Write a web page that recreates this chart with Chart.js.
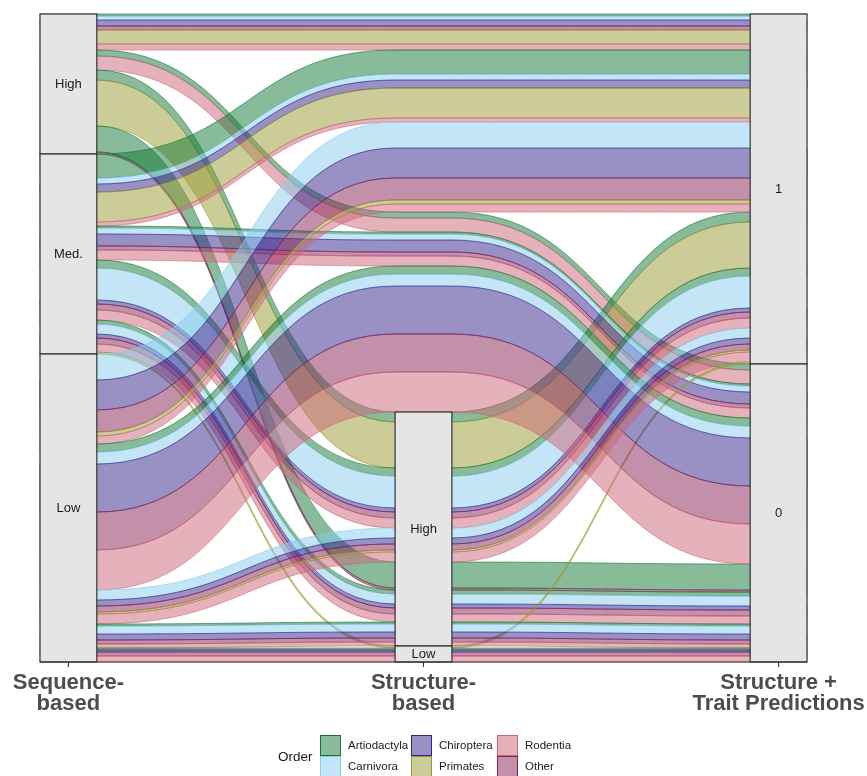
<!DOCTYPE html>
<html>
<head>
<meta charset="utf-8">
<script src="https://cdn.jsdelivr.net/npm/chart.js@4.4.0/dist/chart.umd.min.js"></script>
<style>
  html, body { margin: 0; padding: 0; background: #fff; }
</style>
</head>
<body>
<canvas id="alluvial" width="867" height="776"></canvas>
<script>
const orders = ['Artiodactyla', 'Carnivora', 'Chiroptera', 'Primates', 'Rodentia', 'Other'];
const orderColors = ['#117733', '#88CCEE', '#332288', '#999933', '#CC6677', '#882255'];
const axisLabels = [['Sequence-', 'based'], ['Structure-', 'based'], ['Structure +', 'Trait Predictions']];
const seqLevels = ['High', 'Med.', 'Low'];
const structLevels = ['NA', 'High', 'Low'];
const traitLevels = ['1', '0'];

// one entry per combination of strata (sequence, structure, trait)
const comboSeq    = ['High', 'High', 'High', 'High', 'Med.', 'Med.', 'Med.', 'Med.', 'Med.', 'Low', 'Low', 'Low', 'Low', 'Low'];
const comboStruct = ['NA', 'NA', 'High', 'High', 'NA', 'NA', 'High', 'High', 'Low', 'NA', 'NA', 'High', 'High', 'Low'];
const comboTrait  = ['1', '0', '1', '0', '1', '0', '1', '0', '1', '1', '0', '1', '0', '0'];

// counts of each order for every combination above
const artiodactyla = [1, 3, 5, 13, 12, 1, 4, 2, 0, 0, 4, 0, 1, 1];
const carnivora    = [2, 0, 0, 0, 3, 3, 16, 5, 0, 13, 6, 5, 4, 0];
const chiroptera   = [3, 0, 0, 0, 4, 6, 2, 2, 0, 15, 24, 3, 3, 1];
const primates     = [7, 0, 23, 0, 15, 0, 0, 0, 1, 2, 0, 1, 0, 0];
const rodentia     = [3, 7, 0, 0, 2, 5, 5, 4, 0, 4, 20, 5, 2, 3];
const other        = [2, 0, 0, 1, 0, 2, 3, 3, 0, 11, 19, 3, 2, 2];
const countsByOrder = [artiodactyla, carnivora, chiroptera, primates, rodentia, other];

const STRATUM_W = 0.16;
const axisLevels = [seqLevels, structLevels, traitLevels];
const guidance = [[0, 1, 2], [1, 2, 0], [2, 1, 0]]; // zigzag lode guidance
const stackNames = [...orders].sort();

function rgba(hex, a) {
    const v = parseInt(hex.slice(1), 16);
    return `rgba(${(v >> 16) & 255},${(v >> 8) & 255},${v & 255},${a})`;
}

function buildAlluvia() {
    const list = [];
    comboSeq.forEach((s, c) => {
        stackNames.forEach(name => {
            const k = orders.indexOf(name);
            const n = countsByOrder[k][c];
            if (!n) return;
            list.push({
                order: k,
                rank: stackNames.indexOf(name),
                lv: [seqLevels.indexOf(s), structLevels.indexOf(comboStruct[c]), traitLevels.indexOf(comboTrait[c])],
                n, top: [], bot: []
            });
        });
    });
    const total = list.reduce((sum, d) => sum + d.n, 0);
    guidance.forEach((g, a) => {
        const sorted = [...list].sort((p, q) => {
            for (const i of g) if (p.lv[i] !== q.lv[i]) return p.lv[i] - q.lv[i];
            return p.rank - q.rank;
        });
        let yy = total;
        sorted.forEach(d => { d.top[a] = yy; yy -= d.n; d.bot[a] = yy; });
    });
    const strata = axisLevels.map((levels, a) => {
        let yy = total;
        return levels.map((name, li) => {
            const n = list.filter(d => d.lv[a] === li).reduce((sum, d) => sum + d.n, 0);
            const s = { name, top: yy, bot: yy - n };
            yy -= n;
            return s;
        });
    });
    return { list, total, strata };
}

const layout = buildAlluvia();

const alluvialPlugin = {
    id: 'alluvial',
    beforeDatasetsDraw(chart) {
        const { ctx, scales: { x, y } } = chart;
        const hw = STRATUM_W / 2;

        // flows
        layout.list.forEach(d => {
            ctx.save();
            ctx.beginPath();
            for (let a = 0; a < 3; a++) {
                const xl = x.getPixelForValue(a + 1 - hw), xr = x.getPixelForValue(a + 1 + hw);
                const yt = y.getPixelForValue(d.top[a]);
                if (a === 0) ctx.moveTo(xl, yt);
                else {
                    const px = x.getPixelForValue(a + hw), py = y.getPixelForValue(d.top[a - 1]);
                    const m = (xl - px) / 2;
                    ctx.bezierCurveTo(px + m, py, xl - m, yt, xl, yt);
                }
                ctx.lineTo(xr, yt);
            }
            for (let a = 2; a >= 0; a--) {
                const xl = x.getPixelForValue(a + 1 - hw), xr = x.getPixelForValue(a + 1 + hw);
                const yb = y.getPixelForValue(d.bot[a]);
                if (a === 2) ctx.lineTo(xr, yb);
                else {
                    const nx = x.getPixelForValue(a + 2 - hw), ny = y.getPixelForValue(d.bot[a + 1]);
                    const m = (nx - xr) / 2;
                    ctx.bezierCurveTo(nx - m, ny, xr + m, yb, xr, yb);
                }
                ctx.lineTo(xl, yb);
            }
            ctx.closePath();
            ctx.fillStyle = rgba(orderColors[d.order], 0.5);
            ctx.fill();
            ctx.strokeStyle = rgba(orderColors[d.order], 0.85);
            ctx.lineWidth = 0.7;
            ctx.stroke();
            ctx.restore();
        });

        // strata boxes
        ctx.save();
        ctx.font = '13px "Liberation Sans", Arial, sans-serif';
        ctx.textAlign = 'center';
        ctx.textBaseline = 'middle';
        layout.strata.forEach((levels, a) => {
            const xl = x.getPixelForValue(a + 1 - hw), xr = x.getPixelForValue(a + 1 + hw);
            levels.forEach(s => {
                if (s.name === 'NA' || s.top === s.bot) return;
                const yt = y.getPixelForValue(s.top), yb = y.getPixelForValue(s.bot);
                ctx.fillStyle = '#e5e5e5';
                ctx.fillRect(xl, yt, xr - xl, yb - yt);
                ctx.strokeStyle = '#262626';
                ctx.lineWidth = 1.1;
                ctx.strokeRect(xl, yt, xr - xl, yb - yt);
                ctx.fillStyle = '#1a1a1a';
                ctx.fillText(s.name, (xl + xr) / 2, (yt + yb) / 2);
            });
        });
        ctx.restore();
    },
    afterDraw(chart) {
        const { ctx, chartArea, scales: { x } } = chart;
        ctx.save();
        // axis line and ticks
        ctx.strokeStyle = '#333333';
        ctx.lineWidth = 1.1;
        ctx.beginPath();
        ctx.moveTo(chartArea.left, chartArea.bottom);
        ctx.lineTo(chartArea.right, chartArea.bottom);
        [1, 2, 3].forEach(v => {
            const px = x.getPixelForValue(v);
            ctx.moveTo(px, chartArea.bottom);
            ctx.lineTo(px, chartArea.bottom + 5);
        });
        ctx.stroke();

        ctx.fillStyle = '#4d4d4d';
        ctx.font = 'bold 22px "Liberation Sans", Arial, sans-serif';
        ctx.textAlign = 'center';
        ctx.textBaseline = 'alphabetic';
        axisLabels.forEach((lines, i) => {
            const px = x.getPixelForValue(i + 1);
            lines.forEach((t, j) => ctx.fillText(t, px, 689 + j * 21));
        });

        // legend
        ctx.fillStyle = '#1a1a1a';
        ctx.font = '13.5px "Liberation Sans", Arial, sans-serif';
        ctx.textAlign = 'left';
        ctx.textBaseline = 'middle';
        ctx.fillText('Order', 278, 757);
        const colX = [320, 411, 497];
        const legendRows = 2;
        ctx.font = '11.5px "Liberation Sans", Arial, sans-serif';
        orders.forEach((name, i) => {
            const col = Math.floor(i / legendRows), row = i % legendRows;
            const kx = colX[col], ky = 735 + row * 21;
            ctx.fillStyle = '#ffffff';
            ctx.fillRect(kx, ky, 21, 21);
            ctx.fillStyle = rgba(orderColors[i], 0.5);
            ctx.fillRect(kx, ky, 21, 21);
            ctx.strokeStyle = orderColors[i];
            ctx.lineWidth = 1;
            ctx.strokeRect(kx + 0.5, ky + 0.5, 20, 20);
            ctx.fillStyle = '#1a1a1a';
            ctx.fillText(name, kx + 28, ky + 11);
        });
        ctx.restore();
    }
};

new Chart(document.getElementById('alluvial'), {
    type: 'scatter',
    data: {
        datasets: orders.map((name, i) => ({
            label: name,
            data: [],
            backgroundColor: rgba(orderColors[i], 0.5),
            borderColor: orderColors[i]
        }))
    },
    options: {
        responsive: false,
        animation: false,
        devicePixelRatio: 1,
        layout: { padding: { left: 40, right: 60, top: 14, bottom: 114 } },
        scales: {
            x: { type: 'linear', min: 1 - STRATUM_W / 2, max: 3 + STRATUM_W / 2, display: false },
            y: { type: 'linear', min: 0, max: layout.total, display: false }
        },
        plugins: {
            legend: { display: false },
            tooltip: { enabled: false }
        }
    },
    plugins: [alluvialPlugin]
});
</script>
</body>
</html>
